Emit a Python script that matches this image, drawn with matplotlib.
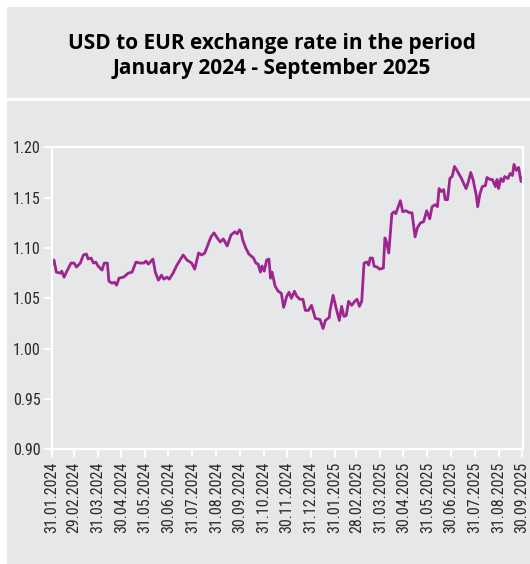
import pandas as pd
import matplotlib.pyplot as plt
from matplotlib.patches import Rectangle

# USD/EUR rate, sampled from the daily series
dates = [
    "2024-01-31", "2024-02-03", "2024-02-06", "2024-02-11", "2024-02-13", "2024-02-16",
    "2024-02-19", "2024-02-25", "2024-02-29", "2024-03-03", "2024-03-08", "2024-03-12",
    "2024-03-16", "2024-03-18", "2024-03-22", "2024-03-25", "2024-03-28", "2024-03-31",
    "2024-04-05", "2024-04-08", "2024-04-12", "2024-04-14", "2024-04-18", "2024-04-21",
    "2024-04-24", "2024-04-27", "2024-05-03", "2024-05-09", "2024-05-14", "2024-05-19",
    "2024-05-24", "2024-05-29", "2024-06-01", "2024-06-04", "2024-06-10", "2024-06-13",
    "2024-06-17", "2024-06-21", "2024-06-24", "2024-06-28", "2024-07-01", "2024-07-06",
    "2024-07-11", "2024-07-15", "2024-07-19", "2024-07-24", "2024-07-30", "2024-08-03",
    "2024-08-08", "2024-08-12", "2024-08-16", "2024-08-19", "2024-08-24", "2024-08-28",
    "2024-09-01", "2024-09-05", "2024-09-09", "2024-09-14", "2024-09-19", "2024-09-24",
    "2024-09-27", "2024-09-30", "2024-10-02", "2024-10-04", "2024-10-08", "2024-10-12",
    "2024-10-18", "2024-10-21", "2024-10-24", "2024-10-27", "2024-10-29", "2024-11-01",
    "2024-11-04", "2024-11-07", "2024-11-09", "2024-11-11", "2024-11-15", "2024-11-19",
    "2024-11-23", "2024-11-26", "2024-11-30", "2024-12-03", "2024-12-06", "2024-12-10",
    "2024-12-13", "2024-12-17", "2024-12-21", "2024-12-24", "2024-12-28", "2025-01-01",
    "2025-01-06", "2025-01-12", "2025-01-16", "2025-01-19", "2025-01-24", "2025-01-25",
    "2025-01-29", "2025-02-02", "2025-02-06", "2025-02-09", "2025-02-12", "2025-02-15",
    "2025-02-18", "2025-02-22", "2025-02-26", "2025-03-01", "2025-03-04", "2025-03-07",
    "2025-03-10", "2025-03-14", "2025-03-16", "2025-03-18", "2025-03-21", "2025-03-23",
    "2025-03-27", "2025-03-30", "2025-04-04", "2025-04-06", "2025-04-08", "2025-04-11",
    "2025-04-15", "2025-04-18", "2025-04-20", "2025-04-26", "2025-04-29", "2025-05-03",
    "2025-05-08", "2025-05-11", "2025-05-15", "2025-05-18", "2025-05-22", "2025-05-26",
    "2025-05-30", "2025-06-03", "2025-06-06", "2025-06-10", "2025-06-13", "2025-06-15",
    "2025-06-18", "2025-06-21", "2025-06-23", "2025-06-26", "2025-06-29", "2025-07-02",
    "2025-07-05", "2025-07-09", "2025-07-14", "2025-07-20", "2025-07-23", "2025-07-26",
    "2025-07-29", "2025-08-02", "2025-08-04", "2025-08-07", "2025-08-10", "2025-08-14",
    "2025-08-16", "2025-08-20", "2025-08-23", "2025-08-27", "2025-08-29", "2025-08-31",
    "2025-09-03", "2025-09-06", "2025-09-08", "2025-09-12", "2025-09-15", "2025-09-18",
    "2025-09-20", "2025-09-23", "2025-09-26", "2025-09-29", "2025-10-02",
]
rates = [
    1.083, 1.088, 1.076, 1.075, 1.077, 1.071,
    1.076, 1.085, 1.085, 1.081, 1.085, 1.093,
    1.094, 1.089, 1.090, 1.085, 1.086, 1.082,
    1.078, 1.085, 1.085, 1.067, 1.065, 1.066,
    1.063, 1.070, 1.071, 1.075, 1.076, 1.086,
    1.085, 1.085, 1.087, 1.084, 1.089, 1.076,
    1.068, 1.073, 1.069, 1.071, 1.069, 1.075,
    1.083, 1.088, 1.093, 1.088, 1.085, 1.079,
    1.095, 1.093, 1.095, 1.101, 1.111, 1.115,
    1.110, 1.106, 1.109, 1.102, 1.113, 1.116,
    1.114, 1.118, 1.116, 1.108, 1.100, 1.094,
    1.090, 1.085, 1.084, 1.076, 1.082, 1.077,
    1.088, 1.089, 1.070, 1.076, 1.062, 1.057,
    1.055, 1.041, 1.052, 1.056, 1.050, 1.057,
    1.052, 1.049, 1.049, 1.038, 1.038, 1.043,
    1.030, 1.029, 1.020, 1.028, 1.031, 1.038,
    1.053, 1.040, 1.028, 1.042, 1.032, 1.033,
    1.047, 1.043, 1.047, 1.049, 1.042, 1.047,
    1.085, 1.086, 1.083, 1.090, 1.090, 1.082,
    1.081, 1.079, 1.080, 1.110, 1.106, 1.095,
    1.134, 1.136, 1.134, 1.147, 1.136, 1.137,
    1.135, 1.135, 1.111, 1.120, 1.125, 1.126,
    1.137, 1.129, 1.141, 1.143, 1.141, 1.159,
    1.156, 1.158, 1.148, 1.148, 1.169, 1.171,
    1.181, 1.176, 1.169, 1.159, 1.166, 1.175,
    1.168, 1.153, 1.141, 1.154, 1.161, 1.162,
    1.170, 1.168, 1.168, 1.161, 1.168, 1.159,
    1.169, 1.166, 1.171, 1.169, 1.174, 1.172,
    1.183, 1.177, 1.180, 1.166, 1.171,
]

tick_dates = pd.date_range("2024-01-31", "2025-09-30", freq="ME")
tick_labels = [d.strftime("%d.%m.%Y") for d in tick_dates]
y_ticks = [0.90, 0.95, 1.00, 1.05, 1.10, 1.15, 1.20]

title = "USD to EUR exchange rate in the period\nJanuary 2024 - September 2025"

gray = "#e6e7e9"
purple = "#9e2490"
narrow = ["Roboto Condensed", "Roboto", "DejaVu Sans"]

fig = plt.figure(figsize=(5.30, 5.64), dpi=100)
fig.patch.set_facecolor("white")

# two grey panels: title strip and chart panel
fig.add_artist(Rectangle((7 / 530, 1 - 97.5 / 564), 1, 90.5 / 564,
                         transform=fig.transFigure, facecolor=gray, edgecolor="none", zorder=0))
fig.add_artist(Rectangle((7 / 530, 0.5 / 564), 1, 462.5 / 564,
                         transform=fig.transFigure, facecolor=gray, edgecolor="none", zorder=0))

fig.text(272 / 530, 1 - 56 / 564, title, ha="center", va="center",
         fontsize=15, fontweight="bold", family=["Open Sans", "DejaVu Sans"],
         linespacing=1.3)

ax = fig.add_axes([51.7 / 530, 1 - 449.3 / 564, (523.3 - 51.7) / 530, (449.3 - 147.3) / 564])
ax.set_facecolor(gray)

x = pd.to_datetime(dates)
ax.plot(x, rates, color=purple, linewidth=2.0, solid_joinstyle="round")

ax.set_xlim(pd.Timestamp("2024-01-31"), pd.Timestamp("2025-10-02"))
ax.set_ylim(0.90, 1.20)

ax.set_yticks(y_ticks)
ax.set_yticklabels([f"{v:.2f}" for v in y_ticks], family=narrow, fontsize=11.5)
ax.set_xticks(tick_dates)
ax.set_xticklabels(tick_labels, rotation=90, family=narrow, fontsize=11.5)

for s in ax.spines.values():
    s.set_color("white")
    s.set_linewidth(1.6)
ax.tick_params(axis="both", colors="white", width=1.4, length=6, direction="out")
ax.tick_params(axis="both", labelcolor="#2a2a2a")
ax.tick_params(axis="y", pad=2)
ax.tick_params(axis="x", pad=3)

fig.savefig("out.png", dpi=100, facecolor="white")
